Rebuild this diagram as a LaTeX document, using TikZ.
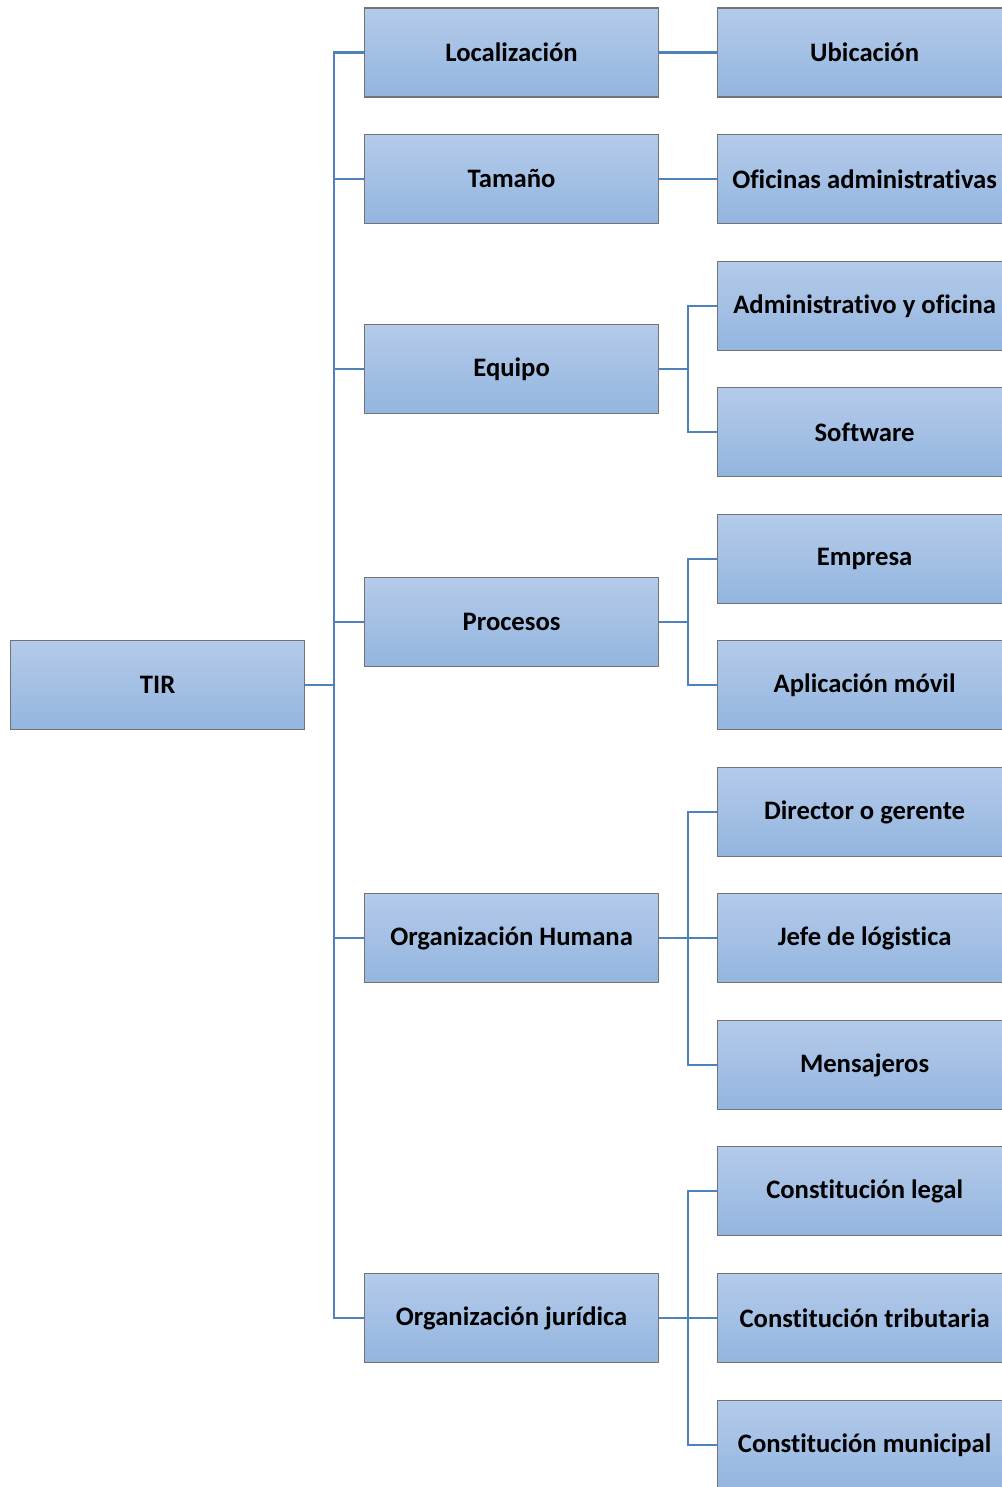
\documentclass[tikz,border=0pt]{standalone}
\usepackage{fontspec}
\setmainfont[Ligatures={NoCommon}]{Carlito}
\definecolor{boxtop}{HTML}{B4CBEA}
\definecolor{boxbot}{HTML}{93B5DF}
\definecolor{boxedge}{HTML}{737373}
\definecolor{linkcol}{HTML}{4F81BD}
\begin{document}
\begin{tikzpicture}[x=0.75pt,y=-0.75pt,
  cell/.style={draw=boxedge, line width=0.9pt, top color=boxtop, bottom color=boxbot,
    minimum width=294*0.75pt, minimum height=89*0.75pt, inner sep=0pt,
    font=\fontsize{20}{24}\selectfont\bfseries, anchor=west},
  link/.style={draw=linkcol, line width=1.9pt}]
\useasboundingbox (0,0) rectangle (1002,1487);
\clip (0,0) rectangle (1002,1487);

% root
\node[cell] (tir) at (10,685) {TIR};

% second level
\node[cell] (loc) at (364,52.5) {Localización};
\node[cell] (tam) at (364,179) {Tamaño};
\node[cell] (equ) at (364,369) {Equipo};
\node[cell] (pro) at (364,622) {Procesos};
\node[cell] (orh) at (364,938) {Organización Humana};
\node[cell] (orj) at (364,1318) {Organización jurídica};

% third level
\node[cell] (ubi) at (717,52.5) {Ubicación};
\node[cell] (ofi) at (717,179) {Oficinas administrativas};
\node[cell] (adm) at (717,306) {Administrativo y oficina};
\node[cell] (sof) at (717,432) {Software};
\node[cell] (emp) at (717,559) {Empresa};
\node[cell] (app) at (717,685) {Aplicación móvil};
\node[cell] (dir) at (717,812) {Director o gerente};
\node[cell] (jef) at (717,938) {Jefe de lógistica};
\node[cell] (men) at (717,1065) {Mensajeros};
\node[cell] (cle) at (717,1191) {Constitución legal};
\node[cell] (ctr) at (717,1318) {Constitución tributaria};
\node[cell] (cmu) at (717,1445) {Constitución municipal};

% trunk from root
\coordinate (trunk) at (334,685);
\draw[link] (tir.east) -- (trunk);
\foreach \n in {loc,tam,equ,pro,orh,orj}
  \draw[link] (\n.west) -| (trunk);

% single children
\draw[link] (loc.east) -- (ubi.west);
\draw[link] (tam.east) -- (ofi.west);

% grouped children
\foreach \p/\kids in {equ/{adm,sof}, pro/{emp,app}, orh/{dir,jef,men}, orj/{cle,ctr,cmu}} {
  \coordinate (j) at ([xshift=29*0.75pt]\p.east);
  \draw[link] (\p.east) -- (j);
  \foreach \k in \kids
    \draw[link] (\k.west) -| (j);
}
\end{tikzpicture}
\end{document}
